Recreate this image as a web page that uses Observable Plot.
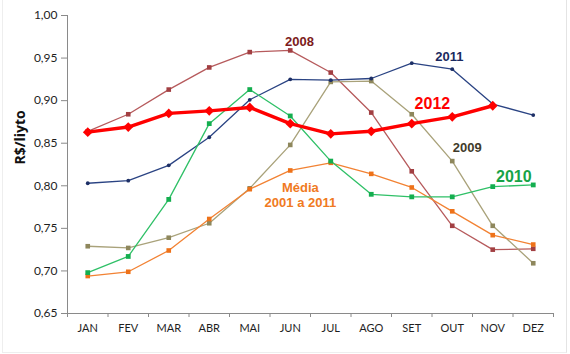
<!DOCTYPE html>
<html>
<head>
<meta charset="utf-8">
<script src="https://cdn.jsdelivr.net/npm/d3@7"></script>
<script src="https://cdn.jsdelivr.net/npm/@observablehq/plot@0.6"></script>
<style>
  html, body { margin: 0; padding: 0; background: #fff; }
  #wrap { position: relative; width: 570px; height: 354px; }
  #edge { position: absolute; left: 2px; top: 0; width: 563px; height: 352px;
          border-left: 1px solid #eeeeee; border-right: 1px solid #e4e4e4; border-bottom: 1px solid #eeeeee;
          pointer-events: none; }
</style>
</head>
<body>
<div id="wrap"><div id="edge"></div></div>
<script>
const months = ["JAN","FEV","MAR","ABR","MAI","JUN","JUL","AGO","SET","OUT","NOV","DEZ"];
const yTicks = [0.65, 0.70, 0.75, 0.80, 0.85, 0.90, 0.95, 1.00];

const v2008  = [0.864,0.884,0.913,0.939,0.957,0.959,0.933,0.886,0.817,0.753,0.725,0.726];
const v2009  = [0.729,0.727,0.739,0.756,0.797,0.848,0.922,0.923,0.884,0.829,0.753,0.709];
const v2010  = [0.698,0.717,0.784,0.873,0.913,0.882,0.829,0.790,0.787,0.787,0.799,0.801];
const v2011  = [0.803,0.806,0.824,0.857,0.901,0.925,0.924,0.926,0.944,0.937,0.896,0.883];
const v2012  = [0.863,0.869,0.885,0.888,0.892,0.873,0.861,0.864,0.873,0.881,0.894,null];
const vMedia = [0.694,0.699,0.724,0.761,0.796,0.818,0.827,0.814,0.798,0.770,0.742,0.731];

const seriesNames = ["2008","2009","2011","Média 2001 a 2011","2010","2012"];
const seriesValues = [v2008, v2009, v2011, vMedia, v2010, v2012];

// label anchors in data space (month index, value)
const labelTexts = ["2008","2011","2012","2009","2010","Média\n2001 a 2011"];
const labelMonth = [5.23, 8.93, 8.51, 9.37, 10.52, 5.25];
const labelValue = [0.970, 0.952, 0.8975, 0.845, 0.811, 0.790];

const diamond = {
  draw(ctx, size) {
    const h = Math.sqrt(size / 2);
    ctx.moveTo(0, -h); ctx.lineTo(h, 0); ctx.lineTo(0, h); ctx.lineTo(-h, 0); ctx.closePath();
  }
};

const styles = {
  "2008": {stroke: "#b65a5c", width: 1.3, fill: "#a23f42", symbol: "square", r: 2.6},
  "2009": {stroke: "#a9a27a", width: 1.3, fill: "#8e875c", symbol: "square", r: 2.6},
  "2011": {stroke: "#2a4383", width: 1.3, fill: "#1d2f66", symbol: "circle", r: 1.9},
  "Média 2001 a 2011": {stroke: "#f28233", width: 1.3, fill: "#ee7219", symbol: "square", r: 2.6},
  "2010": {stroke: "#2fc067", width: 1.3, fill: "#14ae4f", symbol: "square", r: 2.7},
  "2012": {stroke: "#ff0000", width: 3.4, fill: "#ff0000", symbol: diamond, r: 3.9}
};
const labelStyles = [
  {fill: "#7c1b20", size: 13},
  {fill: "#1b2a60", size: 13},
  {fill: "#ff0000", size: 16},
  {fill: "#3f3b2b", size: 13},
  {fill: "#17a347", size: 16},
  {fill: "#f07a22", size: 13}
];

const fmt = d => d.toFixed(2).replace(".", ",");

const seriesMarks = seriesNames.flatMap((name, k) => {
  const st = styles[name];
  const rows = seriesValues[k].map((v, i) => ({m: i, v})).filter(d => d.v != null);
  return [
    Plot.line(rows, {x: "m", y: "v", stroke: st.stroke, strokeWidth: st.width}),
    Plot.dot(rows, {x: "m", y: "v", symbol: st.symbol, r: st.r, fill: st.fill, stroke: "none"})
  ];
});

const labelMarks = labelTexts.map((t, k) => Plot.text([t], {
  x: () => labelMonth[k], y: () => labelValue[k], text: d => d,
  fill: labelStyles[k].fill, fontSize: labelStyles[k].size, fontWeight: "bold",
  fontFamily: "Liberation Sans, Arial, sans-serif", lineHeight: 1.15
}));

const chart = Plot.plot({
  width: 570, height: 354,
  marginLeft: 67, marginRight: 17, marginTop: 15, marginBottom: 41,
  x: {domain: [-0.5, 11.5]},
  y: {domain: [0.65, 1.0]},
  style: {fontFamily: "Lato, sans-serif", background: "transparent"},
  marks: [
    Plot.axisY({ticks: yTicks, tickSize: 6, tickPadding: 4, tickFormat: fmt, fontSize: 12,
                stroke: "#8a8a8a", fill: "#1e1e1e", label: null}),
    Plot.axisX({ticks: d3.range(-0.5, 12, 1), tickSize: 4, tickFormat: () => "", stroke: "#8a8a8a", label: null}),
    Plot.axisX({ticks: d3.range(12), tickSize: 0, tickPadding: 11, tickFormat: i => months[i],
                fontSize: 11, fill: "#1e1e1e", label: null}),
    Plot.ruleX([-0.5], {stroke: "#8a8a8a"}),
    Plot.ruleY([0.65], {stroke: "#8a8a8a"}),
    ...seriesMarks,
    ...labelMarks,
    Plot.text(["R$/liyto"], {frameAnchor: "left", dx: -47, rotate: -90, text: d => d,
      fontSize: 14, fontWeight: "bold", fontFamily: "Open Sans, sans-serif", fill: "#111"})
  ]
});
document.getElementById("wrap").appendChild(chart);
chart.style.position = "absolute";
chart.style.left = "0";
chart.style.top = "0";
</script>
</body>
</html>
